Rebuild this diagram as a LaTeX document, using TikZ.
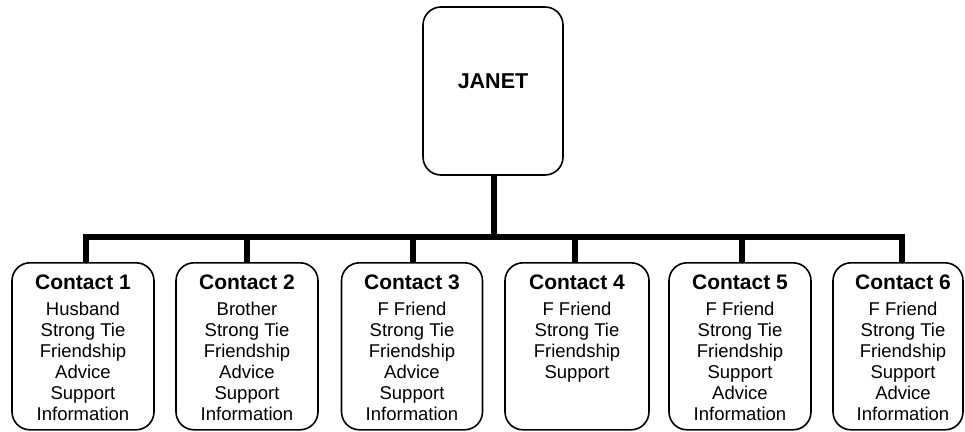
\documentclass[tikz,border=0pt]{standalone}
\usepackage{fontspec}
\setmainfont{Liberation Sans}
\begin{document}
\begin{tikzpicture}[x=1pt,y=1pt,
  personbox/.style={draw=black, line width=1.6pt, rounded corners=18pt, fill=white,
    minimum width=140pt, minimum height=168pt, inner sep=0pt, text depth=20pt,
    font=\bfseries\fontsize{21.5}{24}\selectfont},
  contactbox/.style={draw=black, line width=1.6pt, rounded corners=18pt, fill=white,
    anchor=north, inner sep=0pt},
  tie/.style={line width=6pt, line join=miter, line cap=butt}]
% canvas
\useasboundingbox (0,0) rectangle (965,-431);
\fill[white] (0,0) rectangle (965,-431);

\newcommand{\contacttext}[4][0pt]{%
  \parbox[t][167pt][t]{#2}{\centering\leftskip=#1 plus 1fil
    \fontsize{18.5}{21}\selectfont
    \rule{0pt}{27pt}{\bfseries\fontsize{21}{21}\selectfont #3}\\[5pt]#4}}

% root person
\node[personbox] (janet) at (493,-91) {JANET};

% contacts
\node[contactbox] (c1) at (83,-262) {\contacttext{142pt}{Contact 1}{Husband\\Strong Tie\\Friendship\\Advice\\Support\\Information}};
\node[contactbox] (c2) at (247,-262) {\contacttext{142pt}{Contact 2}{Brother\\Strong Tie\\Friendship\\Advice\\Support\\Information}};
\node[contactbox] (c3) at (412,-262) {\contacttext{141pt}{Contact 3}{F Friend\\Strong Tie\\Friendship\\Advice\\Support\\Information}};
\node[contactbox] (c4) at (577,-262) {\contacttext{144pt}{Contact 4}{F Friend\\Strong Tie\\Friendship\\Support}};
\node[contactbox] (c5) at (740,-262) {\contacttext{142pt}{Contact 5}{F Friend\\Strong Tie\\Friendship\\Support\\Advice\\Information}};
\node[contactbox] (c6) at (898,-262) {\contacttext[10pt]{130pt}{Contact 6}{F Friend\\Strong Tie\\Friendship\\Support\\Advice\\Information}};

% bus points
\coordinate (b1) at (86,-237);
\coordinate (b2) at (247,-237);
\coordinate (b3) at (413,-237);
\coordinate (b4) at (575,-237);
\coordinate (b5) at (742,-237);
\coordinate (b6) at (902,-237);
\coordinate (bj) at (494,-237);

% connectors
\draw[tie] (janet.south -| bj) -- (bj);
\draw[tie] (b1 |- c1.north) -- (b1) -- (b6) -- (b6 |- c6.north);
\draw[tie] (b2) -- (b2 |- c2.north);
\draw[tie] (b3) -- (b3 |- c3.north);
\draw[tie] (b4) -- (b4 |- c4.north);
\draw[tie] (b5) -- (b5 |- c5.north);
\end{tikzpicture}
\end{document}
